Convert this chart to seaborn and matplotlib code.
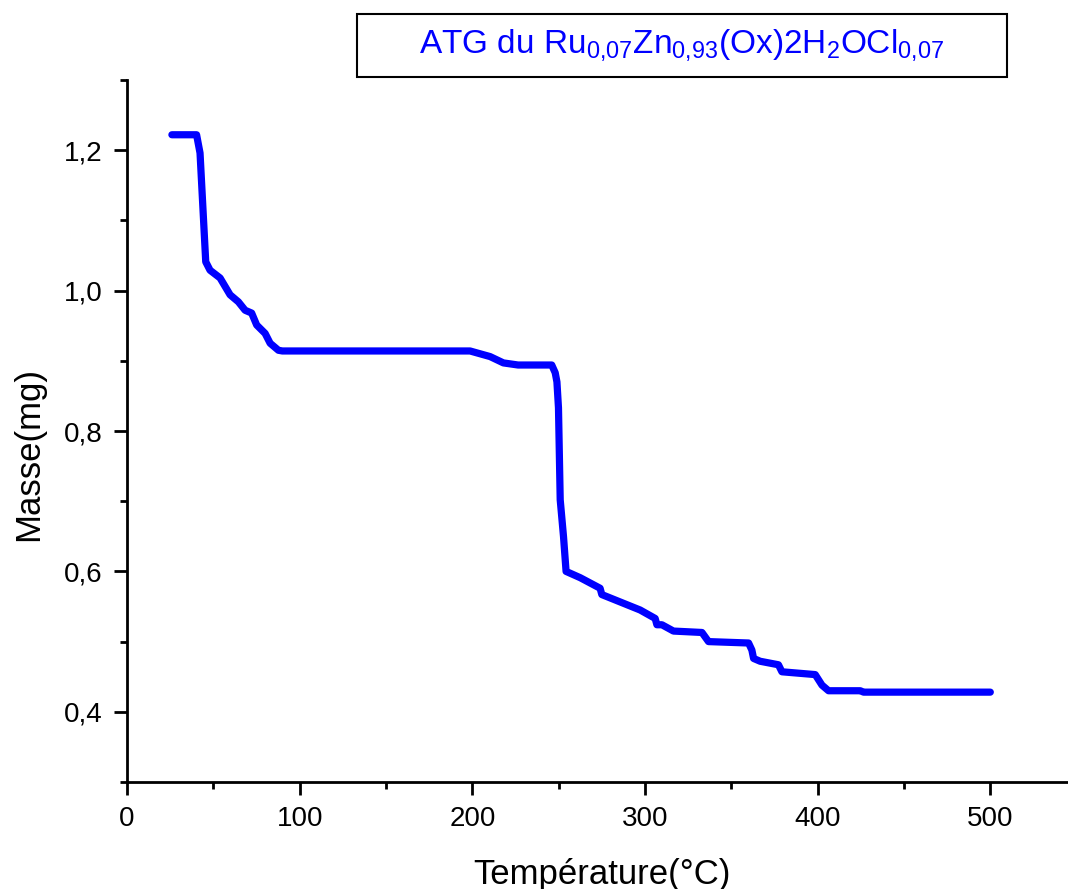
import numpy as np
import pandas as pd
import matplotlib
matplotlib.use("Agg")
import matplotlib.pyplot as plt
from matplotlib.patches import Rectangle
from matplotlib.ticker import MultipleLocator, FuncFormatter
import seaborn as sns

# courbe ATG
temperature = [26, 40.3, 42.3, 45.6, 48.1, 53.9, 59.7, 64.5, 68.4, 72.2, 75.1, 80.0, 82.9, 87.7,
               90, 198.7, 210.3, 218, 226.5, 246, 248, 249, 249.9, 250.9, 252.8, 254.3,
               262.5, 274, 275, 297.2, 305.9, 306.9, 309.8, 316.5, 333, 336.8, 360, 361.9,
               362.9, 366.7, 377.3, 379.3, 398.6, 402.5, 406.3, 424.7, 426.6, 500]
masse = [1.222, 1.222, 1.196, 1.041, 1.029, 1.018, 0.994, 0.984, 0.972, 0.968, 0.951, 0.939, 0.925, 0.915,
         0.914, 0.914, 0.906, 0.897, 0.894, 0.894, 0.883, 0.870, 0.833, 0.702, 0.650, 0.600,
         0.591, 0.576, 0.567, 0.545, 0.533, 0.524, 0.524, 0.515, 0.513, 0.500, 0.498, 0.488,
         0.476, 0.472, 0.467, 0.457, 0.453, 0.438, 0.430, 0.430, 0.428, 0.428]

df = pd.DataFrame({"T": temperature, "m": masse})

sns.set_style("ticks")
plt.rcParams['font.family'] = ['Liberation Sans', 'DejaVu Sans']
plt.rcParams['mathtext.default'] = 'regular'
plt.rcParams['text.color'] = 'black'
plt.rcParams['axes.labelcolor'] = 'black'
plt.rcParams['axes.edgecolor'] = 'black'
plt.rcParams['xtick.color'] = 'black'
plt.rcParams['ytick.color'] = 'black'

fig = plt.figure(figsize=(10.68, 8.89), dpi=100)
ax = fig.add_axes([127 / 1068, 1 - 782 / 889, 941 / 1068, 702 / 889])

sns.lineplot(data=df, x="T", y="m", sort=False, estimator=None, color="#0000ff", linewidth=5.2, ax=ax)

ax.set_xlim(0, 545)
ax.set_ylim(0.3, 1.3)
ax.xaxis.set_major_locator(MultipleLocator(100))
ax.xaxis.set_minor_locator(MultipleLocator(50))
ax.yaxis.set_major_locator(MultipleLocator(0.2))
ax.yaxis.set_minor_locator(MultipleLocator(0.1))
ax.yaxis.set_major_formatter(FuncFormatter(lambda v, p: f"{v:.1f}".replace('.', ',')))
ax.tick_params(which='major', direction='out', length=13 * 0.72, width=2, labelsize=20, pad=8, colors='black')
ax.tick_params(which='minor', direction='out', length=7 * 0.72, width=2, colors='black')
for s in ['left', 'bottom']:
    ax.spines[s].set_linewidth(2)
    ax.spines[s].set_color('black')
sns.despine(ax=ax)

ax.set_xlabel("Température(°C)", fontsize=25, va='baseline')
ax.set_ylabel("Masse(mg)", fontsize=25, va='baseline')
ax.xaxis.set_label_coords(0.505, -0.1453)
ax.yaxis.set_label_coords(-0.0946, 0.467)

fig.patches.append(Rectangle((357 / 1068, 1 - 77 / 889), 650 / 1068, 63 / 889,
                             transform=fig.transFigure, fill=False, edgecolor='black', linewidth=1.5))
fig.text(682 / 1068, 1 - 45 / 889,
         r"ATG du Ru$_{0{,}07}$Zn$_{0{,}93}$(Ox)2H$_2$OCl$_{0{,}07}$",
         color="#0000ff", fontsize=24, ha='center', va='center')

plt.savefig("out.png", dpi=100)
plt.close()
